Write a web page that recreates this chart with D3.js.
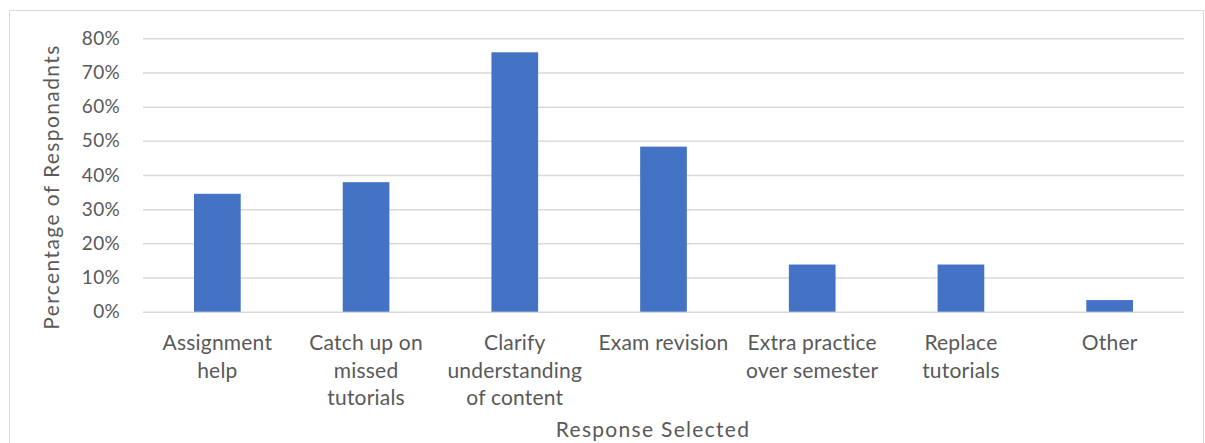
<!DOCTYPE html>
<html>
<head>
<meta charset="utf-8">
<script src="https://cdn.jsdelivr.net/npm/d3@7"></script>
<style>
  html, body { margin: 0; padding: 0; background: #fff; }
  svg { display: block; font-family: Lato, "Open Sans", sans-serif; }
</style>
</head>
<body>
<svg id="chart" width="1205" height="443"></svg>
<script>
// Survey responses: share of respondents selecting each reason
const categories = [
  ["Assignment", "help"],
  ["Catch up on", "missed", "tutorials"],
  ["Clarify", "understanding", "of content"],
  ["Exam revision"],
  ["Extra practice", "over semester"],
  ["Replace", "tutorials"],
  ["Other"]
];
const values = [0.345, 0.379, 0.759, 0.483, 0.138, 0.138, 0.034];
const yTicks = [0, 0.1, 0.2, 0.3, 0.4, 0.5, 0.6, 0.7, 0.8];
const yTitle = "Percentage of Responadnts";
const xTitle = "Response Selected";

const svg = d3.select("#chart");
const W = 1205, H = 443;
const margin = { left: 143, right: 21, top: 38.3, bottom: 131.3 };
const textColor = "#595959";

// chart frame
svg.append("rect")
  .attr("x", 9.5).attr("y", 10.5)
  .attr("width", 1194).attr("height", 440)
  .attr("fill", "#fff").attr("stroke", "#d9d9d9").attr("stroke-width", 1);

const keys = categories.map(c => c.join(" "));
const x = d3.scaleBand()
  .domain(keys)
  .range([margin.left, W - margin.right])
  .paddingInner(0.686)
  .paddingOuter(0.343);

const y = d3.scaleLinear()
  .domain([0, 0.8])
  .range([H - margin.bottom, margin.top]);

// horizontal gridlines + tick labels
const yAxis = d3.axisLeft(y)
  .tickValues(yTicks)
  .tickFormat(d3.format(".0%"))
  .tickSize(-(W - margin.right - margin.left))
  .tickPadding(23);

const gy = svg.append("g")
  .attr("transform", `translate(${margin.left},0)`)
  .call(yAxis);
gy.select(".domain").remove();
gy.selectAll(".tick line").attr("stroke", "#d9d9d9").attr("stroke-width", 1.5);
gy.selectAll(".tick text")
  .attr("fill", textColor)
  .attr("font-size", 19)
  .style("letter-spacing", "0.3px")
  .style("font-family", "Lato, sans-serif");

// bars
svg.append("g").selectAll("rect")
  .data(values)
  .join("rect")
  .attr("x", (d, i) => x(keys[i]))
  .attr("width", x.bandwidth())
  .attr("y", d => y(d))
  .attr("height", d => y(0) - y(d))
  .attr("fill", "#4472c4");

// category labels (multi-line)
const gx = svg.append("g");
categories.forEach((lines, i) => {
  const cx = x(keys[i]) + x.bandwidth() / 2;
  const t = gx.append("text")
    .attr("y", 350)
    .attr("text-anchor", "middle")
    .attr("fill", textColor)
    .attr("font-size", 21)
    .style("letter-spacing", "0.2px");
  lines.forEach((ln, j) => {
    t.append("tspan")
      .attr("x", cx)
      .attr("dy", j === 0 ? 0 : 27.5)
      .text(ln);
  });
});

// axis titles
svg.append("text")
  .attr("x", 653)
  .attr("y", 437)
  .attr("text-anchor", "middle")
  .attr("fill", textColor)
  .attr("font-size", 21)
  .style("letter-spacing", "1.3px")
  .text(xTitle);

svg.append("text")
  .attr("transform", "translate(59,187) rotate(-90)")
  .attr("text-anchor", "middle")
  .attr("fill", textColor)
  .attr("font-size", 21)
  .style("letter-spacing", "1.4px")
  .text(yTitle);
</script>
</body>
</html>
